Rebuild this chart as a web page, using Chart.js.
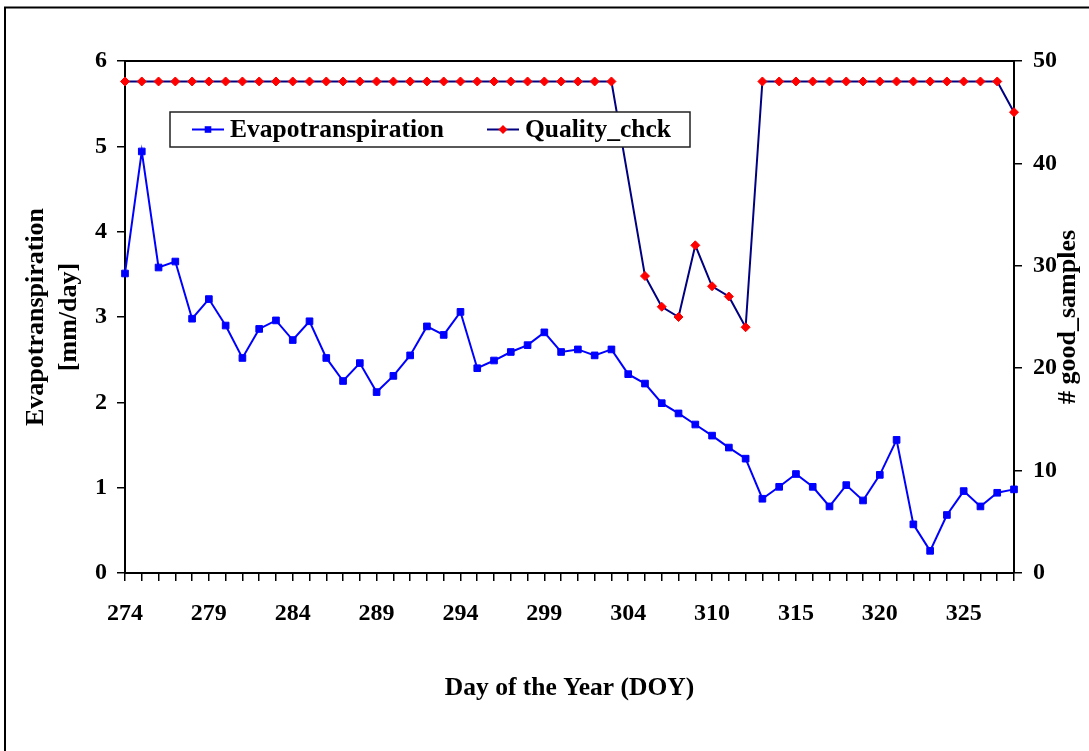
<!DOCTYPE html>
<html>
<head>
<meta charset="utf-8">
<title>Evapotranspiration and quality check</title>
<script src="https://cdn.jsdelivr.net/npm/chart.js@4.4.1/dist/chart.umd.min.js"></script>
<style>
  html, body { margin: 0; padding: 0; background: #fff; }
  canvas { display: block; }
</style>
</head>
<body>
<canvas id="et-chart" width="1089" height="751"></canvas>
<script>
// day of year (one day missing between 304 and 310)
const days = [
  274, 275, 276, 277, 278, 279, 280, 281, 282, 283,
  284, 285, 286, 287, 288, 289, 290, 291, 292, 293,
  294, 295, 296, 297, 298, 299, 300, 301, 302, 303,
  304, 305, 306, 307, 308, 310, 311, 312, 313, 314,
  315, 316, 317, 318, 319, 320, 321, 322, 323, 324,
  325, 326, 327, 328
];

// mm/day
const evapotranspiration = [
  3.51, 4.94, 3.58, 3.65, 2.98, 3.21, 2.90, 2.52, 2.86, 2.96,
  2.73, 2.95, 2.52, 2.25, 2.46, 2.12, 2.31, 2.55, 2.89, 2.79,
  3.06, 2.40, 2.49, 2.59, 2.67, 2.82, 2.59, 2.62, 2.55, 2.62,
  2.33, 2.22, 1.99, 1.87, 1.74, 1.61, 1.47, 1.34, 0.87, 1.01,
  1.16, 1.01, 0.78, 1.03, 0.85, 1.15, 1.56, 0.57, 0.26, 0.68,
  0.96, 0.78, 0.94, 0.98
];

// # good samples
const qualityCheck = [
  48, 48, 48, 48, 48, 48, 48, 48, 48, 48,
  48, 48, 48, 48, 48, 48, 48, 48, 48, 48,
  48, 48, 48, 48, 48, 48, 48, 48, 48, 48,
  null, 29, 26, 25, 32, 28, 27, 24, 48, 48,
  48, 48, 48, 48, 48, 48, 48, 48, 48, 48,
  48, 48, 48, 45
];

const labelEvery = 5;
const etTicks = { min: 0, max: 6, step: 1 };
const sampleTicks = { min: 0, max: 50, step: 10 };

const serif = "'Liberation Serif', 'Times New Roman', serif";
const tickFont = { family: serif, size: 24, weight: "bold" };

// white page, the cut frame, plot box top line, titles and legend
const decorPlugin = {
  id: "decor",
  beforeDraw(chart) {
    const ctx = chart.ctx;
    ctx.save();
    ctx.fillStyle = "#fff";
    ctx.fillRect(0, 0, chart.width, chart.height);
    ctx.strokeStyle = "#000";
    ctx.lineWidth = 2;
    ctx.beginPath();
    ctx.moveTo(5, chart.height);
    ctx.lineTo(5, 7.5);
    ctx.lineTo(chart.width, 7.5);
    ctx.stroke();
    ctx.restore();
  },
  afterDraw(chart) {
    const ctx = chart.ctx;
    const area = chart.chartArea;
    const midX = (area.left + area.right) / 2;
    const midY = (area.top + area.bottom) / 2;

    ctx.save();
    ctx.strokeStyle = "#000";
    ctx.lineWidth = 2;
    ctx.beginPath();
    ctx.moveTo(area.left, area.top);
    ctx.lineTo(area.right, area.top);
    ctx.stroke();

    ctx.fillStyle = "#000";
    ctx.font = "bold 25.5px " + serif;
    ctx.textAlign = "center";
    ctx.textBaseline = "middle";
    ctx.fillText("Day of the Year (DOY)", midX, 688);

    ctx.font = "bold 26px " + serif;
    ctx.save();
    ctx.translate(36, midY);
    ctx.rotate(-Math.PI / 2);
    ctx.fillText("Evapotranspiration", 0, 0);
    ctx.fillText("[mm/day]", 0, 33);
    ctx.restore();

    ctx.save();
    ctx.translate(1068, midY);
    ctx.rotate(-Math.PI / 2);
    ctx.fillText("# good_samples", 0, 0);
    ctx.restore();

    // legend box
    const box = { left: area.left + 45, top: 112, right: area.left + 565, bottom: 147 };
    ctx.fillStyle = "#fff";
    ctx.fillRect(box.left, box.top, box.right - box.left, box.bottom - box.top);
    ctx.strokeStyle = "#222";
    ctx.lineWidth = 1.5;
    ctx.strokeRect(box.left, box.top, box.right - box.left, box.bottom - box.top);

    const cy = (box.top + box.bottom) / 2;
    const entries = [box.left + 22, box.left + 317];
    chart.data.datasets.forEach(function (ds, i) {
      const x0 = entries[i];
      ctx.strokeStyle = ds.borderColor;
      ctx.lineWidth = 2;
      ctx.beginPath();
      ctx.moveTo(x0, cy);
      ctx.lineTo(x0 + 32, cy);
      ctx.stroke();
      ctx.fillStyle = ds.pointBackgroundColor;
      const mx = x0 + 16;
      ctx.beginPath();
      if (ds.pointStyle === "rect") {
        ctx.rect(mx - 3.3, cy - 3.3, 6.6, 6.6);
      } else {
        ctx.moveTo(mx, cy - 4.5);
        ctx.lineTo(mx + 4.5, cy);
        ctx.lineTo(mx, cy + 4.5);
        ctx.lineTo(mx - 4.5, cy);
        ctx.closePath();
      }
      ctx.fill();
      ctx.fillStyle = "#000";
      ctx.font = "bold 25.5px " + serif;
      ctx.textAlign = "left";
      ctx.textBaseline = "middle";
      ctx.fillText(ds.label, x0 + 38, cy + 1);
    });
    ctx.restore();
  }
};

const ctx = document.getElementById("et-chart").getContext("2d");

new Chart(ctx, {
  type: "line",
  data: {
    labels: days,
    datasets: [
      {
        label: "Evapotranspiration",
        data: evapotranspiration,
        yAxisID: "y",
        borderColor: "#0000ff",
        backgroundColor: "#0000ff",
        pointBackgroundColor: "#0000ff",
        pointBorderColor: "#0000ff",
        borderWidth: 2,
        pointStyle: "rect",
        pointRadius: 4.7,
        pointBorderWidth: 1,
        tension: 0,
      },
      {
        label: "Quality_chck",
        data: qualityCheck,
        yAxisID: "y1",
        borderColor: "#000080",
        backgroundColor: "#ff0000",
        pointBackgroundColor: "#ff0000",
        pointBorderColor: "#ff0000",
        borderWidth: 2,
        pointStyle: "rectRot",
        pointRadius: 4.5,
        pointBorderWidth: 1,
        tension: 0,
        spanGaps: true,
      },
    ],
  },
  options: {
    responsive: false,
    animation: false,
    devicePixelRatio: 1,
    layout: { padding: { left: 0, right: 0, top: 61, bottom: 0 } },
    plugins: {
      legend: { display: false },
      tooltip: { enabled: false },
    },
    scales: {
      x: {
        type: "category",
        offset: false,
        grid: { drawOnChartArea: false, color: "#000", lineWidth: 1.5, tickLength: 8 },
        border: { color: "#000", width: 2 },
        ticks: {
          autoSkip: false,
          maxRotation: 0,
          minRotation: 0,
          padding: 18,
          color: "#000",
          font: tickFont,
          callback: function (value, index) {
            return index % labelEvery === 0 ? days[index] : "";
          },
        },
        afterFit: function (scale) { scale.height = 178; },
      },
      y: {
        position: "left",
        min: etTicks.min,
        max: etTicks.max,
        grid: { drawOnChartArea: false, color: "#000", lineWidth: 1.5, tickLength: 8 },
        border: { color: "#000", width: 2 },
        ticks: { stepSize: etTicks.step, padding: 10, color: "#000", font: tickFont },
        afterFit: function (scale) { scale.width = 125; },
      },
      y1: {
        position: "right",
        min: sampleTicks.min,
        max: sampleTicks.max,
        grid: { drawOnChartArea: false, color: "#000", lineWidth: 1.5, tickLength: 8 },
        border: { color: "#000", width: 2 },
        ticks: { stepSize: sampleTicks.step, padding: 11, color: "#000", font: tickFont },
        afterFit: function (scale) { scale.width = 75; },
      },
    },
  },
  plugins: [decorPlugin],
});
</script>
</body>
</html>
